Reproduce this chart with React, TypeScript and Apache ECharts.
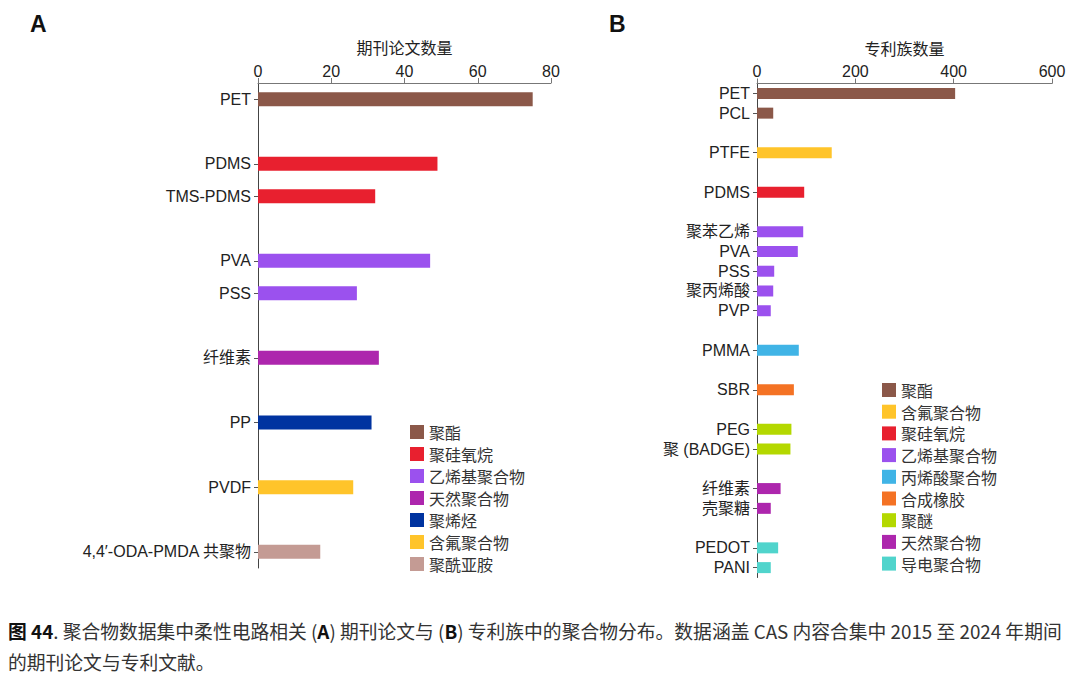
import * as echarts from "echarts";
import { useEffect, useRef } from "react";

// 面板 A：期刊论文（"_g" 开头的是空行）
const catsA = ["PET", "_g1", "PDMS", "TMS-PDMS", "_g2", "PVA", "PSS", "_g3", "纤维素", "_g4", "PP", "_g5", "PVDF", "_g6", "4,4′-ODA-PMDA 共聚物"];
const valuesA = [75, null, 49, 32, null, 47, 27, null, 33, null, 31, null, 26, null, 17];
const groupsA = ["聚酯", "", "聚硅氧烷", "聚硅氧烷", "", "乙烯基聚合物", "乙烯基聚合物", "", "天然聚合物", "", "聚烯烃", "", "含氟聚合物", "", "聚酰亚胺"];
const legendA = ["聚酯", "聚硅氧烷", "乙烯基聚合物", "天然聚合物", "聚烯烃", "含氟聚合物", "聚酰亚胺"];
const ticksA = [0, 80, 20];

// 面板 B：专利族
const catsB = ["PET", "PCL", "_g1", "PTFE", "_g2", "PDMS", "_g3", "聚苯乙烯", "PVA", "PSS", "聚丙烯酸", "PVP", "_g4", "PMMA", "_g5", "SBR", "_g6", "PEG", "聚 (BADGE)", "_g7", "纤维素", "壳聚糖", "_g8", "PEDOT", "PANI"];
const valuesB = [403, 33, null, 152, null, 96, null, 94, 83, 35, 33, 28, null, 85, null, 75, null, 70, 68, null, 48, 28, null, 43, 28];
const groupsB = ["聚酯", "聚酯", "", "含氟聚合物", "", "聚硅氧烷", "", "乙烯基聚合物", "乙烯基聚合物", "乙烯基聚合物", "乙烯基聚合物", "乙烯基聚合物", "", "丙烯酸聚合物", "", "合成橡胶", "", "聚醚", "聚醚", "", "天然聚合物", "天然聚合物", "", "导电聚合物", "导电聚合物"];
const legendB = ["聚酯", "含氟聚合物", "聚硅氧烷", "乙烯基聚合物", "丙烯酸聚合物", "合成橡胶", "聚醚", "天然聚合物", "导电聚合物"];
const ticksB = [0, 600, 200];

const colors: Record<string, string> = {
  聚酯: "#8b5849",
  聚硅氧烷: "#e8202f",
  乙烯基聚合物: "#9b51ee",
  天然聚合物: "#ad26ad",
  聚烯烃: "#0033a0",
  含氟聚合物: "#ffc42a",
  聚酰亚胺: "#c49b94",
  丙烯酸聚合物: "#40b4e6",
  合成橡胶: "#f47224",
  聚醚: "#b4d800",
  导电聚合物: "#50d4cc",
};

const FONT = "'Liberation Sans', Arial, 'Noto Sans CJK SC', sans-serif";
const CJK = "'Noto Sans CJK SC', sans-serif";

function App() {
  const chartRef = useRef<HTMLDivElement>(null);

  useEffect(() => {
    const chart = echarts.init(chartRef.current, null, { renderer: "svg" });

    const xAxis = (idx: number, name: string, t: number[]) => ({
      type: "value",
      gridIndex: idx,
      position: "top",
      min: t[0],
      max: t[1],
      interval: t[2],
      name,
      nameLocation: "middle",
      nameGap: 28,
      nameTextStyle: { fontSize: 16, color: "#222", fontFamily: CJK },
      axisLine: { show: true, lineStyle: { color: "#777" } },
      axisTick: { show: true, length: 5, lineStyle: { color: "#777" } },
      axisLabel: { fontSize: 16, color: "#222", margin: 4, fontFamily: FONT },
      splitLine: { show: false },
    });

    const yAxis = (idx: number, cats: string[]) => ({
      type: "category",
      gridIndex: idx,
      inverse: true,
      data: cats,
      axisLine: { show: true, lineStyle: { color: "#444" } },
      axisTick: {
        show: true,
        length: 4,
        alignWithLabel: true,
        interval: (_i: number, v: string) => !v.startsWith("_g"),
        lineStyle: { color: "#555" },
      },
      axisLabel: {
        fontSize: 16,
        color: "#222",
        margin: 7,
        interval: 0,
        fontFamily: FONT,
        formatter: (v: string) => (v.startsWith("_g") ? "" : v),
      },
    });

    const makeSeries = (idx: number, names: string[], values: (number | null)[], groups: string[], bw: number) =>
      names.map((name) => ({
        name,
        type: "bar",
        xAxisIndex: idx,
        yAxisIndex: idx,
        stack: "s" + idx,
        barWidth: bw,
        itemStyle: { color: colors[name] },
        data: values.map((v, i) => (groups[i] === name && v !== null ? v : "-")),
      }));

    const legend = (names: string[], left: number, top: number, gap: number) => ({
      data: names,
      orient: "vertical",
      left,
      top,
      icon: "rect",
      itemWidth: 14,
      itemHeight: 14,
      itemGap: gap,
      textStyle: { fontSize: 16, color: "#333", fontFamily: CJK },
      selectedMode: false,
    });

    chart.setOption({
      animation: false,
      grid: [
        { left: 258, top: 83, width: 293, height: 485 },
        { left: 757, top: 83.5, width: 295, height: 494 },
      ],
      xAxis: [xAxis(0, "期刊论文数量", ticksA), xAxis(1, "专利族数量", ticksB)],
      yAxis: [yAxis(0, catsA), yAxis(1, catsB)],
      legend: [legend(legendA, 405, 419, 6), legend(legendB, 877, 377, 5.7)],
      series: [...makeSeries(0, legendA, valuesA, groupsA, 14), ...makeSeries(1, legendB, valuesB, groupsB, 11)],
      graphic: [
        { type: "text", left: 30, top: 12, style: { text: "A", font: "bold 23px 'Liberation Sans', Arial", fill: "#111" } },
        { type: "text", left: 609, top: 12, style: { text: "B", font: "bold 23px 'Liberation Sans', Arial", fill: "#111" } },
        {
          type: "text",
          left: 8,
          top: 615,
          style: {
            text:
              "{b|图 44}. 聚合物数据集中柔性电路相关 ({b|A}) 期刊论文与 ({b|B}) 专利族中的聚合物分布。数据涵盖 CAS 内容合集中 2015 至 2024 年期间\n的期刊论文与专利文献。",
            font: "18.8px 'Noto Sans CJK SC', sans-serif",
            fill: "#333",
            lineHeight: 31,
            rich: {
              b: { fontWeight: "bold", fontSize: 18.8, fill: "#111", fontFamily: CJK, lineHeight: 31 },
            },
          },
        },
      ],
    });

    return () => {
      chart.dispose();
    };
  }, []);

  return (
    <div
      ref={chartRef}
      style={{ position: "fixed", left: 0, top: 0, width: 1080, height: 680, background: "#fff" }}
    ></div>
  );
}

export default App;
